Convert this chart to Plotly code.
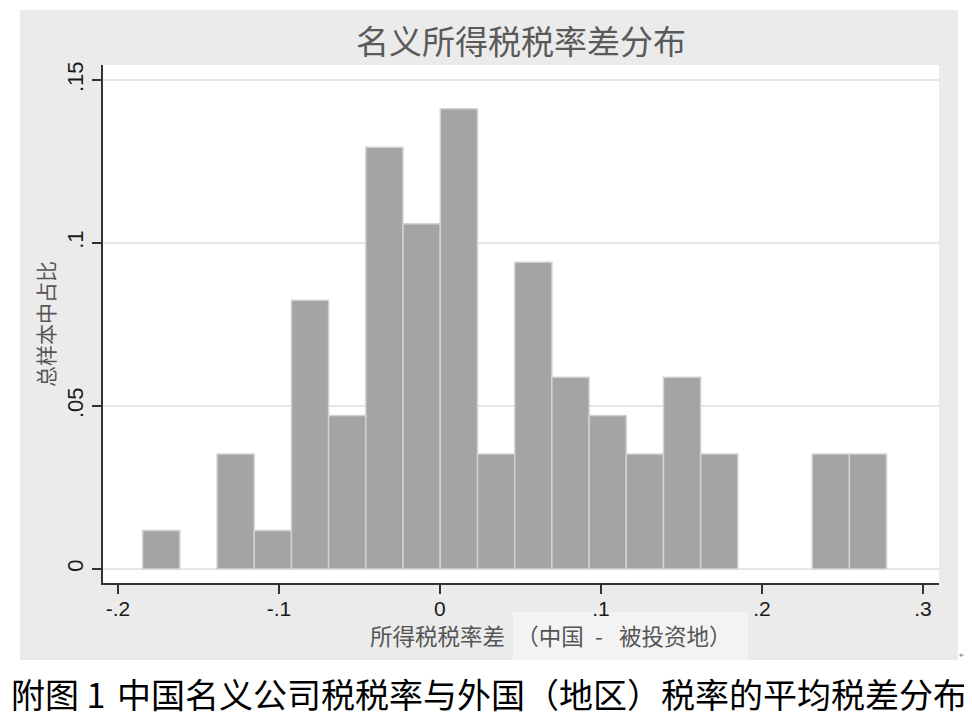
import plotly.graph_objects as go

# histogram bins (centres) and share of the total sample (n = 85)
bin_centers = [-0.1731, -0.1269, -0.1038, -0.0807, -0.0576, -0.0345, -0.0114,
               0.0118, 0.0349, 0.0580, 0.0811, 0.1042, 0.1273, 0.1504, 0.1735,
               0.2428, 0.2659]
shares = [0.0118, 0.0353, 0.0118, 0.0824, 0.0471, 0.1294, 0.1059,
          0.1412, 0.0353, 0.0941, 0.0588, 0.0471, 0.0353, 0.0588, 0.0353,
          0.0353, 0.0353]
bin_width = 0.0231

x_ticks = [-0.2, -0.1, 0, 0.1, 0.2, 0.3]
x_ticktext = ["-.2", "-.1", "0", ".1", ".2", ".3"]
y_ticks = [0, 0.05, 0.1, 0.15]
y_ticktext = ["0", ".05", ".1", ".15"]

title = "名义所得税税率差分布"
x_title = "所得税税率差\u2002（中国\u2002-\u2002\u00a0被投资地）"
y_title = "总样本中占比"
caption_label = "附图 1"
caption = "中国名义公司税税率与外国（地区）税率的平均税差分布"

# the page body adds an 8px offset, so the figure is a bit smaller than the window
OFF = 8
W, H = 972 - OFF, 722 - OFF
L, T = 103 - OFF, 65 - OFF
R, B = W - (939 - OFF), H - (583 - OFF)
pw, ph = W - L - R, H - T - B


def px_x(px):
    # window pixel -> paper fraction
    return (px - OFF - L) / pw


def px_y(py):
    return (H - B - (py - OFF)) / ph


fig = go.Figure(
    go.Bar(
        x=bin_centers,
        y=shares,
        width=bin_width,
        marker={"color": "#a4a4a4", "line": {"color": "#d2d2d2", "width": 1.5}},
        hoverinfo="x+y",
    )
)

cjk = "Noto Sans CJK SC"
fig.update_layout(
    width=W,
    height=H,
    margin={"l": L, "r": R, "t": T, "b": B, "pad": 0},
    paper_bgcolor="#ffffff",
    plot_bgcolor="#ffffff",
    showlegend=False,
    font={"family": "Liberation Sans, Noto Sans CJK SC, sans-serif", "color": "#222222"},
    title={
        "text": title,
        "x": 0.5,
        "xref": "paper",
        "xanchor": "center",
        "y": 1 - (42 - OFF) / H,
        "yanchor": "middle",
        "font": {"family": cjk, "size": 33, "color": "#5a5a5a"},
    },
    shapes=[
        # grey graph region (Stata style), white plot region, pasted patch under x title
        {"type": "rect", "xref": "paper", "yref": "paper", "layer": "below",
         "x0": px_x(20), "x1": px_x(958), "y0": px_y(660), "y1": px_y(10),
         "fillcolor": "#ebebeb", "line": {"width": 0}},
        {"type": "rect", "xref": "paper", "yref": "paper", "layer": "below",
         "x0": 0, "x1": 1, "y0": 0, "y1": 1,
         "fillcolor": "#ffffff", "line": {"width": 0}},
        {"type": "rect", "xref": "paper", "yref": "paper", "layer": "below",
         "x0": px_x(513), "x1": px_x(748), "y0": px_y(660), "y1": px_y(612),
         "fillcolor": "#f3f3f3", "line": {"width": 0}},
    ],
    annotations=[
        {"text": y_title, "xref": "paper", "yref": "paper", "x": px_x(45), "y": px_y(324),
         "textangle": -90, "showarrow": False, "xanchor": "center", "yanchor": "middle",
         "font": {"family": cjk, "size": 21, "color": "#555555"}},
        {"text": x_title, "xref": "paper", "yref": "paper", "x": px_x(368), "y": px_y(635),
         "showarrow": False, "xanchor": "left", "yanchor": "middle",
         "font": {"family": cjk, "size": 22.5, "color": "#555555"}},
        {"text": caption_label, "xref": "paper", "yref": "paper", "x": px_x(9), "y": px_y(693),
         "showarrow": False, "xanchor": "left", "yanchor": "middle",
         "font": {"family": cjk, "size": 34, "color": "#000000"}},
        {"text": caption, "xref": "paper", "yref": "paper", "x": px_x(115), "y": px_y(693),
         "showarrow": False, "xanchor": "left", "yanchor": "middle",
         "font": {"family": cjk, "size": 34, "color": "#000000"}},
        {"text": "↵", "xref": "paper", "yref": "paper", "x": px_x(963), "y": px_y(655),
         "showarrow": False, "xanchor": "center", "yanchor": "middle",
         "font": {"size": 9, "color": "#888888"}},
    ],
)

fig.update_xaxes(
    range=[-0.2093, 0.31],
    tickvals=x_ticks,
    ticktext=x_ticktext,
    showgrid=False,
    zeroline=False,
    showline=True,
    linecolor="#333333",
    linewidth=1.5,
    ticks="outside",
    ticklen=9,
    tickwidth=1.5,
    tickcolor="#333333",
    ticklabelstandoff=-3,
    tickfont={"size": 21, "color": "#1a1a1a"},
)
fig.update_yaxes(
    range=[-0.0043, 0.1546],
    tickvals=y_ticks,
    ticktext=y_ticktext,
    tickangle=-90,
    showgrid=True,
    gridcolor="#e6e6e6",
    gridwidth=1.5,
    zeroline=False,
    showline=True,
    linecolor="#333333",
    linewidth=1.5,
    ticks="outside",
    ticklen=9,
    tickwidth=1.5,
    tickcolor="#333333",
    tickfont={"size": 22, "color": "#1a1a1a"},
)

fig.write_html("out.html")
